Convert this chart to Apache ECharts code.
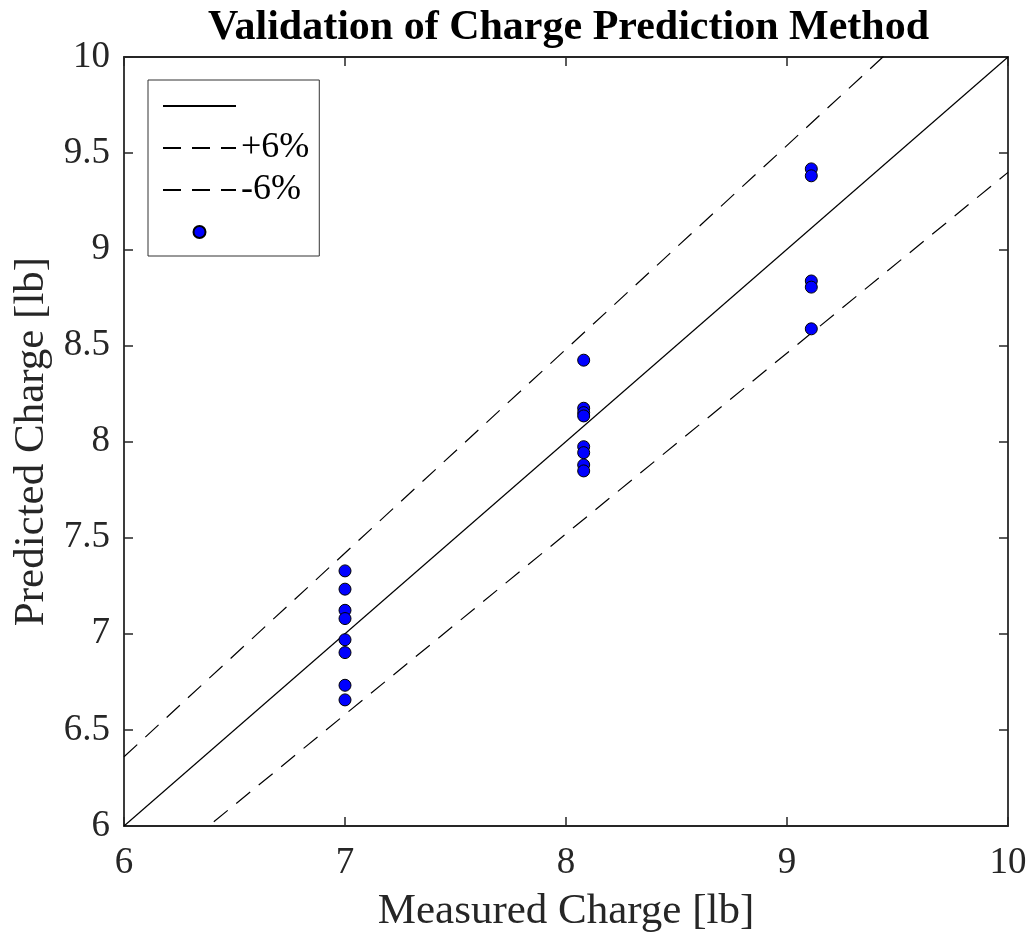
<!DOCTYPE html>
<html>
<head>
<meta charset="utf-8">
<script src="https://cdn.jsdelivr.net/npm/echarts@6/dist/echarts.min.js"></script>
<style>
  html, body { margin: 0; padding: 0; background: #fff; }
  #chart { width: 1028px; height: 933px; }
</style>
</head>
<body>
<div id="chart"></div>
<script>
// measured vs predicted charge (lb)
var measured7 = [7.0, 7.0, 7.0, 7.0, 7.0, 7.0, 7.0, 7.0];
var predicted7 = [7.327, 7.232, 7.122, 7.079, 6.969, 6.902, 6.732, 6.656];
var measured8 = [8.08, 8.08, 8.08, 8.08, 8.08, 8.08, 8.08, 8.08];
var predicted8 = [8.423, 8.173, 8.150, 8.133, 7.973, 7.942, 7.878, 7.847];
var measured9 = [9.11, 9.11, 9.11, 9.11, 9.11];
var predicted9 = [9.418, 9.382, 8.835, 8.803, 8.586];

// reference lines, end points
var refX = [6, 10];
var idealY = [6, 10];
var plusY = [6.36, 10.6];
var minusY = [5.64, 9.4];

var xTicks = [6, 7, 8, 9, 10];
var yTicks = [6, 6.5, 7, 7.5, 8, 8.5, 9, 9.5, 10];

var font = '"Liberation Serif", "Times New Roman", serif';

function pairs(xs, ys) {
  var out = [];
  for (var i = 0; i < xs.length; i++) out.push([xs[i], ys[i]]);
  return out;
}

var scatterData = pairs(measured7, predicted7)
  .concat(pairs(measured8, predicted8))
  .concat(pairs(measured9, predicted9));

var chart = echarts.init(document.getElementById('chart'));

function lineSeries(name, ys, dashed) {
  return {
    name: name,
    type: 'line',
    data: pairs(refX, ys),
    symbol: 'none',
    showSymbol: false,
    clip: true,
    silent: true,
    lineStyle: {
      color: '#000',
      width: 1.2,
      type: dashed ? [18, 11] : 'solid'
    },
    itemStyle: { color: '#000' }
  };
}

var axisCommon = {
  type: 'value',
  min: 6,
  max: 10,
  axisLine: { show: true, onZero: false, lineStyle: { color: '#262626', width: 1.8 } },
  axisTick: { show: true, inside: true, length: 9, lineStyle: { color: '#262626', width: 1.5 } },
  splitLine: { show: false }
};

var option = {
  animation: false,
  backgroundColor: '#fff',
  title: {
    text: 'Validation of Charge Prediction Method',
    left: 203,
    top: 2,
    textStyle: {
      fontFamily: font,
      fontWeight: 'bold',
      fontSize: 42,
      color: '#000'
    }
  },
  grid: {
    left: 124,
    right: 20,
    top: 57,
    bottom: 107,
    outerBoundsMode: 'none'
  },
  legend: {
    orient: 'vertical',
    left: 148,
    top: 80,
    padding: [8, 10, 6, 14],
    itemWidth: 73,
    itemHeight: 12,
    itemGap: 6,
    backgroundColor: '#fff',
    borderColor: '#333',
    borderWidth: 1,
    borderRadius: 0,
    data: [
      { name: 'Ideal', itemStyle: { opacity: 0 } },
      { name: '+6%', itemStyle: { opacity: 0 } },
      { name: '-6%', itemStyle: { opacity: 0 } },
      { name: 'Data' }
    ],
    formatter: function (name) {
      return (name === 'Ideal' || name === 'Data') ? ' ' : name;
    },
    textStyle: {
      fontFamily: font,
      fontSize: 36,
      color: '#000',
      lineHeight: 36,
      width: 67
    }
  },
  xAxis: [
    Object.assign({}, axisCommon, {
      position: 'bottom',
      interval: 1,
      name: 'Measured Charge [lb]',
      nameLocation: 'middle',
      nameGap: 64,
      nameTextStyle: { fontFamily: font, fontSize: 43, color: '#262626' },
      axisLabel: {
        fontFamily: font,
        fontSize: 37,
        color: '#262626',
        margin: 19,
        formatter: function (v) { return xTicks.indexOf(v) >= 0 ? String(v) : ''; }
      }
    }),
    Object.assign({}, axisCommon, {
      position: 'top',
      interval: 1,
      axisLabel: { show: false }
    })
  ],
  yAxis: [
    Object.assign({}, axisCommon, {
      position: 'left',
      interval: 0.5,
      name: 'Predicted Charge [lb]',
      nameLocation: 'middle',
      nameGap: 68,
      nameTextStyle: { fontFamily: font, fontSize: 43, color: '#262626' },
      axisLabel: {
        fontFamily: font,
        fontSize: 37,
        color: '#262626',
        margin: 14,
        formatter: function (v) { return yTicks.indexOf(v) >= 0 ? String(v) : ''; }
      }
    }),
    Object.assign({}, axisCommon, {
      position: 'right',
      interval: 0.5,
      axisLabel: { show: false }
    })
  ],
  series: [
    lineSeries('Ideal', idealY, false),
    lineSeries('+6%', plusY, true),
    lineSeries('-6%', minusY, true),
    {
      name: 'Data',
      type: 'scatter',
      data: scatterData,
      symbol: 'circle',
      symbolSize: 12,
      z: 5,
      itemStyle: {
        color: '#0000ff',
        opacity: 1,
        borderColor: '#000',
        borderWidth: 1
      }
    }
  ]
};

chart.setOption(option);
</script>
</body>
</html>
